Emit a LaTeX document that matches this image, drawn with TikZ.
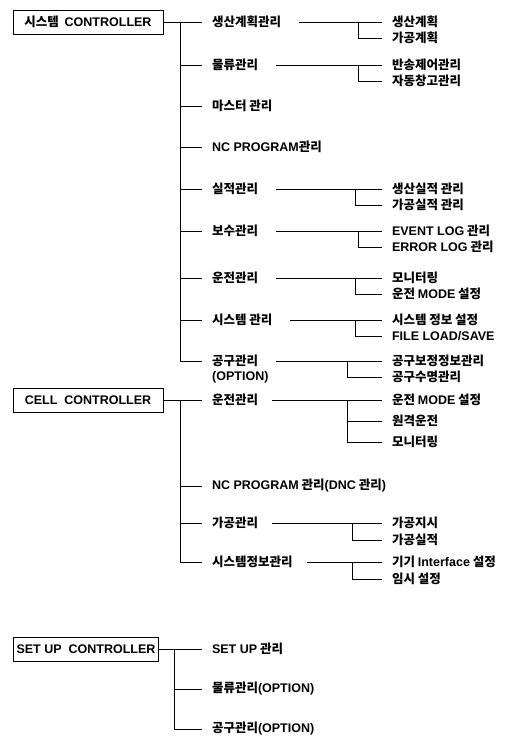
\documentclass[tikz,border=0pt]{standalone}
\usepackage{fontspec}
\setmainfont{Noto Sans CJK KR}
\newfontfamily\latfont{Liberation Sans}
\newcommand{\eng}[1]{{\latfont #1}}
\usetikzlibrary{positioning,calc}

\begin{document}
\begin{tikzpicture}[x=1pt, y=-1pt,
    ctrl/.style={draw, line width=0.9pt, minimum height=24pt, inner sep=3pt, font=\fontsize{12.5}{14}\selectfont\bfseries},
    item/.style={anchor=west, inner sep=0pt, outer xsep=10pt, font=\fontsize{12.5}{14}\selectfont\bfseries},
    note/.style={anchor=west, inner sep=0pt, font=\fontsize{12.5}{14}\selectfont\bfseries},
    line/.style={line width=0.6pt}
]
    \useasboundingbox (0,0) rectangle (514,750);

    % 시스템 CONTROLLER
    \node[ctrl, minimum width=150pt] (sys) at (88,22) {시스템\ \ \eng{CONTROLLER}};
    \node[item] (sys1) at (202,22) {생산계획관리};
    \node[item] (sys2) at (202,65) {물류관리};
    \node[item] (sys3) at (202,106) {마스터 관리};
    \node[item] (sys4) at (202,147) {\eng{NC PROGRAM}관리};
    \node[item] (sys5) at (202,189) {실적관리};
    \node[item] (sys6) at (202,231) {보수관리};
    \node[item] (sys7) at (202,278) {운전관리};
    \node[item] (sys8) at (202,320) {시스템 관리};
    \node[item] (sys9) at (202,361) {공구관리};
    \node[note] (sys9b) at (212,377) {\eng{(OPTION)}};

    \node[item] (s11) at (382,22) {생산계획};
    \node[item] (s12) at (382,38) {가공계획};
    \node[item] (s21) at (382,65) {반송제어관리};
    \node[item] (s22) at (382,81) {자동창고관리};
    \node[item] (s51) at (382,189) {생산실적 관리};
    \node[item] (s52) at (382,205) {가공실적 관리};
    \node[item] (s61) at (382,231) {\eng{EVENT LOG} 관리};
    \node[item] (s62) at (382,247) {\eng{ERROR LOG} 관리};
    \node[item] (s71) at (382,278) {모니터링};
    \node[item] (s72) at (382,294) {운전 \eng{MODE} 설정};
    \node[item] (s81) at (382,320) {시스템 정보 설정};
    \node[item] (s82) at (382,336) {\eng{FILE LOAD/SAVE}};
    \node[item] (s91) at (382,361) {공구보정정보관리};
    \node[item] (s92) at (382,377) {공구수명관리};

    \draw[line] (sys.east) -- (sys1.west);
    \coordinate (t1) at (180,22);
    \draw[line] (t1) |- (sys9.west);
    \foreach \n in {sys2,sys3,sys4,sys5,sys6,sys7,sys8}
        \draw[line] (t1 |- \n.west) -- (\n.west);
    \foreach \m/\a/\b/\x in {sys1/s11/s12/358, sys2/s21/s22/358, sys5/s51/s52/355,
                             sys6/s61/s62/358, sys7/s71/s72/355, sys8/s81/s82/355, sys9/s91/s92/347} {
        \draw[line] (\m.east) ++(8,0) -- (\a.west);
        \draw[line] (\a.west -| \x,0) |- (\b.west);
    }

    % CELL CONTROLLER
    \node[ctrl, minimum width=150pt] (cell) at (88,400) {\eng{CELL\ \ CONTROLLER}};
    \node[item] (cel1) at (202,400) {운전관리};
    \node[item] (cel2) at (202,486) {\eng{NC PROGRAM} 관리\eng{(DNC} 관리\eng{)}};
    \node[item] (cel3) at (202,523) {가공관리};
    \node[item] (cel4) at (202,562) {시스템정보관리};

    \node[item] (c11) at (382,400) {운전 \eng{MODE} 설정};
    \node[item] (c12) at (382,421) {원격운전};
    \node[item] (c13) at (382,442) {모니터링};
    \node[item] (c31) at (382,523) {가공지시};
    \node[item] (c32) at (382,540) {가공실적};
    \node[item] (c41) at (382,562) {기기 \eng{Interface}\ 설정};
    \node[item] (c42) at (382,579) {임시 설정};

    \draw[line] (cell.east) -- (cel1.west);
    \coordinate (t2) at (180,400);
    \draw[line] (t2) |- (cel4.west);
    \foreach \n in {cel2,cel3}
        \draw[line] (t2 |- \n.west) -- (\n.west);
    \draw[line] (cel1.east) ++(4,0) -- (c11.west);
    \draw[line] (c11.west -| 347,0) |- (c13.west);
    \draw[line] (c12.west -| 347,0) -- (c12.west);
    \foreach \m/\a/\b/\x in {cel3/c31/c32/352, cel4/c41/c42/352} {
        \draw[line] (\m.east) ++(4,0) -- (\a.west);
        \draw[line] (\a.west -| \x,0) |- (\b.west);
    }

    % SET UP CONTROLLER
    \node[ctrl, minimum width=145pt] (setup) at (86,649) {\eng{SET\ UP\ \ CONTROLLER}};
    \node[item] (set1) at (202,649) {\eng{SET UP} 관리};
    \node[item] (set2) at (202,689) {물류관리\eng{(OPTION)}};
    \node[item] (set3) at (202,729) {공구관리\eng{(OPTION)}};

    \draw[line] (setup.east) -- (set1.west);
    \coordinate (t3) at (174,649);
    \draw[line] (t3) |- (set3.west);
    \draw[line] (t3 |- set2.west) -- (set2.west);
\end{tikzpicture}
\end{document}
